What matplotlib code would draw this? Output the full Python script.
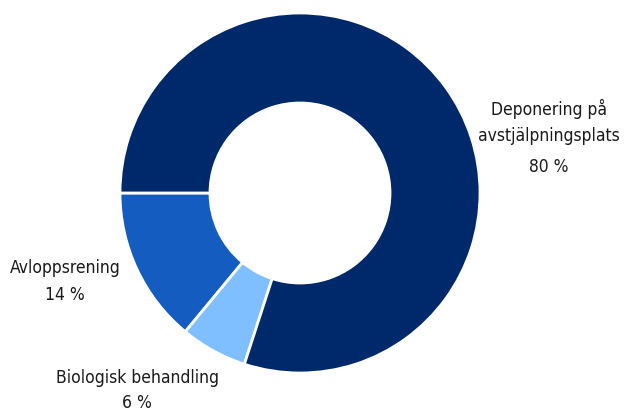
import matplotlib.pyplot as plt
from matplotlib import font_manager

# data
labels = ["Avloppsrening", "Biologisk behandling", "Deponering på\navstjälpningsplats"]
shares = [14, 6, 80]
colors = ["#145cbf", "#7fbfff", "#00296b"]

# look for a condensed face (reference uses a narrow font)
cands = [f for f in font_manager.fontManager.ttflist
         if f.stretch in ("condensed", "semi-condensed", "extra-condensed")
         or "Condensed" in f.fname or "Narrow" in f.fname]
cands = [f for f in cands if "Bold" not in f.fname and "Oblique" not in f.fname
         and "Italic" not in f.fname]
pref = sorted(cands, key=lambda f: (0 if "DejaVuSansCondensed.ttf" in f.fname else 1, f.fname))
if pref:
    fp = font_manager.FontProperties(fname=pref[0].fname, size=12.5)
else:
    fp = font_manager.FontProperties(family="DejaVu Sans", stretch="condensed", size=12.5)

W, H = 624, 409
fig = plt.figure(figsize=(W / 100, H / 100), dpi=100)
# donut centre ~ (300, 193) px, outer radius ~180 px
ax = fig.add_axes([120 / W, (H - 373) / H, 360 / W, 360 / H])
ax.pie(shares, colors=colors, startangle=180, counterclock=True,
       wedgeprops=dict(width=0.5, edgecolor="white", linewidth=2))
ax.set_xlim(-1, 1)
ax.set_ylim(-1, 1)
ax.set_aspect("equal")
ax.axis("off")

txt = dict(ha="center", va="center", fontproperties=fp, color="#1a1a1a", linespacing=1.55)
fig.text(549 / W, 1 - 122 / H, labels[2], **txt)
fig.text(549 / W, 1 - 167 / H, f"{shares[2]} %", **txt)
fig.text(65 / W, 1 - 268 / H, labels[0], **txt)
fig.text(65 / W, 1 - 295 / H, f"{shares[0]} %", **txt)
fig.text(137 / W, 1 - 378 / H, labels[1], **txt)
fig.text(137 / W, 1 - 403 / H, f"{shares[1]} %", **txt)

fig.savefig("out.png", dpi=100)
